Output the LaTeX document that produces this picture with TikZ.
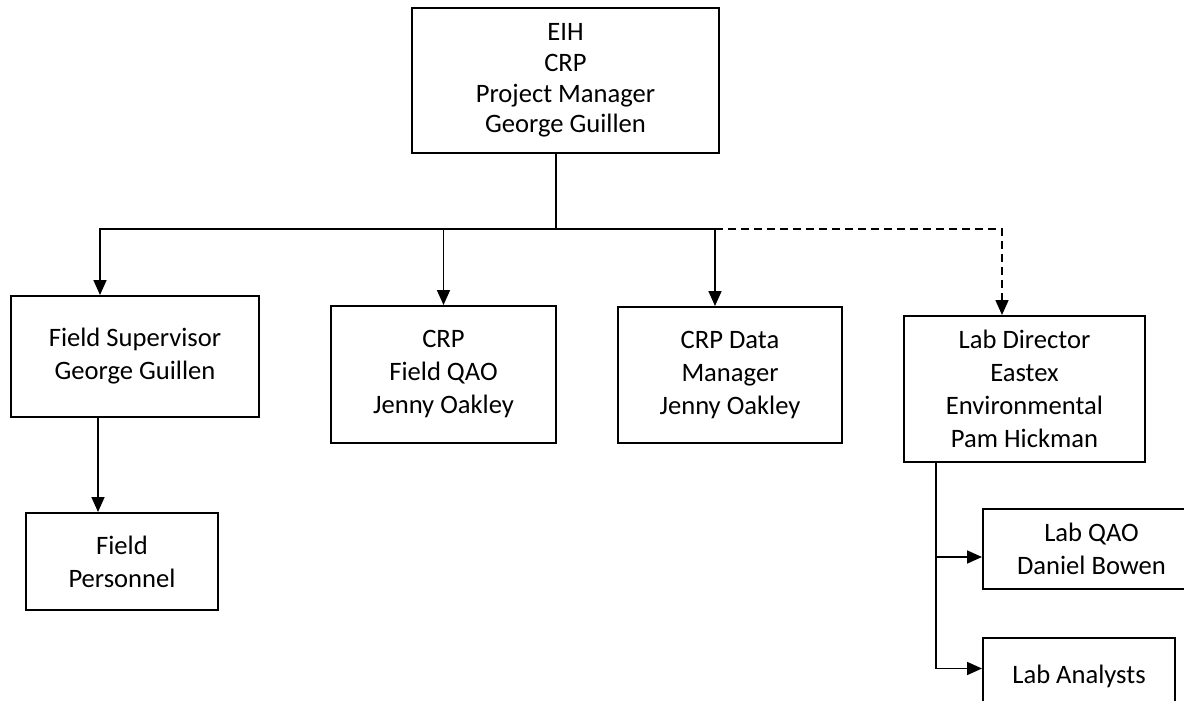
\documentclass[tikz,border=0pt]{standalone}
\usepackage{fontspec}
\setmainfont{Carlito}
\usetikzlibrary{arrows.meta,positioning}

\begin{document}
\begin{tikzpicture}[
    x=0.5pt, y=-0.5pt,
    box/.style={draw, line width=1pt, align=center, inner sep=2pt,
                font=\fontsize{13.3}{16.5}\selectfont},
    arrow/.style={-{Triangle[length=7.5pt,width=6.5pt]}, line width=0.85pt},
    link/.style={line width=0.85pt}
  ]
    \clip (0,0) rectangle (1184,701);

    % Project manager
    \node[box, minimum width=153.5pt, minimum height=72.5pt,
          font=\fontsize{13.3}{15.3}\selectfont] (pm) at (565.5,80.5)
      {EIH\\CRP\\Project Manager\\George Guillen};

    % Second row
    \node[box, minimum width=124pt, minimum height=60.5pt] (sup) at (135,356.5)
      {Field Supervisor\\George Guillen};
    \node[box, minimum width=112.5pt, minimum height=68.5pt] (qao) at (443.5,374.5)
      {CRP\\Field QAO\\Jenny Oakley};
    \node[box, minimum width=112pt, minimum height=68pt] (data) at (730,375)
      {CRP Data\\Manager\\Jenny Oakley};
    \node[box, minimum width=120.5pt, minimum height=73pt] (lab) at (1024.5,389)
      {Lab Director\\Eastex\\Environmental\\Pam Hickman};

    % Third row
    \node[box, minimum width=96pt, minimum height=48.5pt] (pers) at (122,561.5)
      {Field\\Personnel};
    \node[box, minimum width=108.5pt, minimum height=40pt] (labqao) at (1091.5,549)
      {Lab QAO\\Daniel Bowen};
    \node[box, minimum width=96pt, minimum height=38.5pt] (analysts) at (1079,676.5)
      {Lab Analysts};

    % Connectors
    \coordinate (bus) at (556,229);
    \draw[link] (pm.south -| bus) -- (bus);
    \draw[arrow] (bus) -| ([xshift=-17.5pt]sup.north);
    \draw[arrow] (bus) -| (qao);
    \draw[arrow] (bus) -| ([xshift=-7.5pt]data.north);
    \draw[arrow, dash pattern=on 4pt off 2.5pt]
      ([xshift=-7.5pt]data.north |- bus) -| ([xshift=-11.25pt]lab.north);
    \draw[arrow] ([xshift=-18.5pt]sup.south) -- ([xshift=-18.5pt]sup.south |- pers.north);
    \draw[arrow] ([xshift=-44.25pt]lab.south) |- ([yshift=-4pt]labqao.west);
    \draw[arrow] ([xshift=-44.25pt]lab.south) |- ([yshift=4pt]analysts.west);
  \end{tikzpicture}
\end{document}
